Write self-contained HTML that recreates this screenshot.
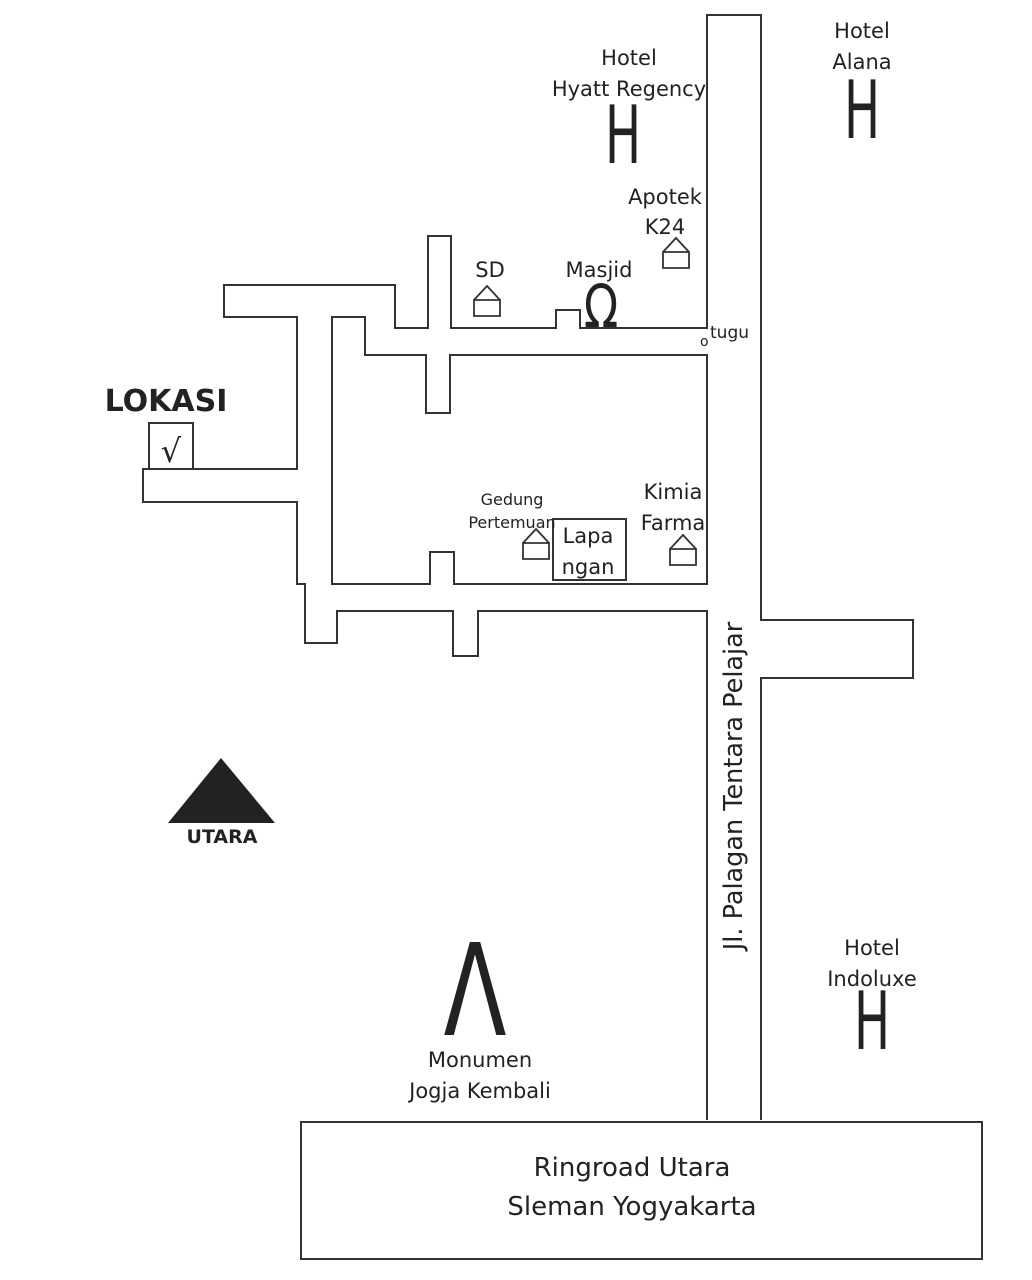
<!DOCTYPE html>
<html><head><meta charset="utf-8"><style>
html,body{margin:0;padding:0;background:#fff;}
svg{display:block;}
text{font-family:"DejaVu Sans","Liberation Sans",sans-serif;fill:#222;}
</style></head><body>
<svg width="1032" height="1280" viewBox="0 0 1032 1280" xmlns="http://www.w3.org/2000/svg">
<g fill="none" stroke="#333" stroke-width="2">
<polyline points="707,1120 707,611 478,611 478,656 453,656 453,611 337,611 337,643 305,643 305,584 297,584 297,502 143,502 143,469 297,469 297,317 224,317 224,285 395,285 395,328 428,328 428,236 451,236 451,328 556,328 556,310 580,310 580,328 707,328 707,15 761,15 761,620 913,620 913,678 761,678 761,1120"/>
<polygon points="332,317 365,317 365,355 426,355 426,413 450,413 450,355 707,355 707,584 454,584 454,552 430,552 430,584 332,584"/>
<rect x="301" y="1122" width="681" height="137"/>
<rect x="553" y="519" width="73" height="61"/>
<rect x="149" y="423" width="44" height="46"/>
<g stroke-width="1.8">
<path d="M474,300 h26 v16 h-26 z M474,300 l13,-14 l13,14"/>
<path d="M663,252 h26 v16 h-26 z M663,252 l13,-14 l13,14"/>
<path d="M523,543 h26 v16 h-26 z M523,543 l13,-14 l13,14"/>
<path d="M670,549 h26 v16 h-26 z M670,549 l13,-14 l13,14"/>
</g>
</g>
<polygon points="221,758 168,823 275,823" fill="#222"/>
<text x="222" y="843" font-size="19" font-weight="bold" text-anchor="middle">UTARA</text>
<text x="166" y="411" font-size="30" font-weight="bold" text-anchor="middle">LOKASI</text>
<text x="171" y="462" font-size="32" text-anchor="middle" font-family="Liberation Serif">√</text>
<g font-size="21" text-anchor="middle">
<text x="629" y="65">Hotel</text>
<text x="629" y="96">Hyatt Regency</text>
<text x="862" y="38">Hotel</text>
<text x="862" y="69">Alana</text>
<text x="665" y="204">Apotek</text>
<text x="665" y="234">K24</text>
<text x="490" y="277">SD</text>
<text x="599" y="277">Masjid</text>
<text x="673" y="499">Kimia</text>
<text x="673" y="530">Farma</text>
<text x="588" y="543">Lapa</text>
<text x="588" y="574">ngan</text>
<text x="872" y="955">Hotel</text>
<text x="872" y="986">Indoluxe</text>
<text x="480" y="1067">Monumen</text>
<text x="480" y="1098">Jogja Kembali</text>
</g>
<g font-size="16" text-anchor="middle">
<text x="512" y="505">Gedung</text>
<text x="512" y="528">Pertemuan</text>
</g>
<text x="700" y="346" font-size="14">o</text>
<text x="710" y="338" font-size="17">tugu</text>
<g font-size="80" text-anchor="middle" font-family="Liberation Sans">
<text transform="translate(623,163) scale(0.6,1)">H</text>
<text transform="translate(862,138) scale(0.6,1)">H</text>
<text transform="translate(872,1049) scale(0.6,1)">H</text>
</g>
<text transform="translate(475,1035) scale(0.72,1)" font-size="128" text-anchor="middle" font-family="Liberation Sans">Λ</text>
<text transform="translate(601,327) scale(0.75,1)" font-size="60" text-anchor="middle" font-family="Liberation Serif">Ω</text>
<text transform="translate(742,786) rotate(-90)" font-size="25.5" text-anchor="middle">Jl. Palagan Tentara Pelajar</text>
<g font-size="26" text-anchor="middle">
<text x="632" y="1176">Ringroad Utara</text>
<text x="632" y="1215">Sleman Yogyakarta</text>
</g>
</svg>
</body></html>
